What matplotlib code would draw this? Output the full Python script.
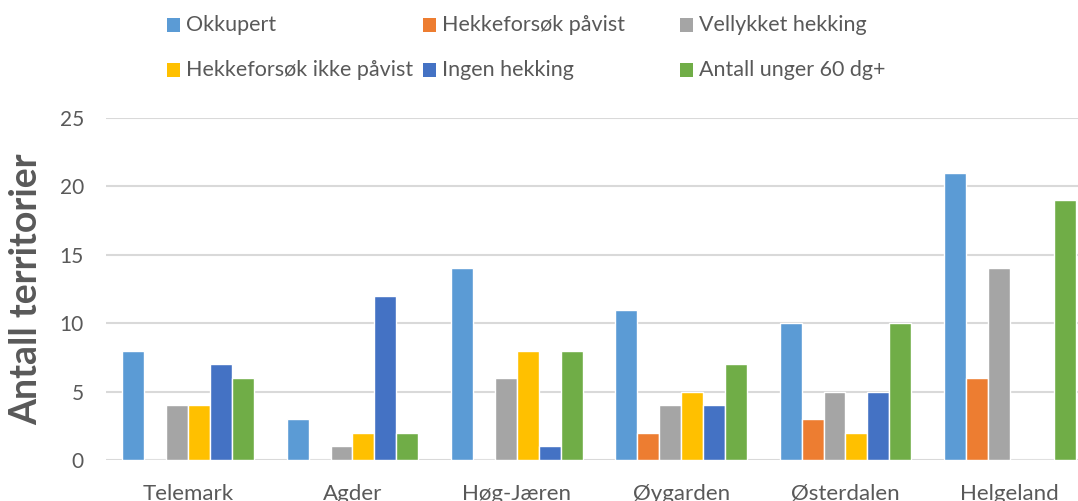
import matplotlib
matplotlib.use('Agg')
import matplotlib.pyplot as plt
from matplotlib.patches import Rectangle
import numpy as np

plt.rcParams['font.family'] = ['Lato', 'DejaVu Sans']

# data
regions = ['Telemark', 'Agder', 'Høg-Jæren', 'Øygarden', 'Østerdalen', 'Helgeland']
series_names = ['Okkupert', 'Hekkeforsøk påvist', 'Vellykket hekking',
                'Hekkeforsøk ikke påvist', 'Ingen hekking', 'Antall unger 60 dg+']
okkupert = [8, 3, 14, 11, 10, 21]
hekk_pavist = [0, 0, 0, 2, 3, 6]
vellykket = [4, 1, 6, 4, 5, 14]
hekk_ikke_pavist = [4, 2, 8, 5, 2, 0]
ingen_hekking = [7, 12, 1, 4, 5, 0]
unger_60 = [6, 2, 8, 7, 10, 19]

series = [okkupert, hekk_pavist, vellykket, hekk_ikke_pavist, ingen_hekking, unger_60]
colors = ['#5B9BD5', '#ED7D31', '#A5A5A5', '#FFC000', '#4472C4', '#70AD47']
text_col = '#595959'

W, H = 1078, 501
fig = plt.figure(figsize=(W / 100, H / 100), dpi=100)
ax = fig.add_axes([106 / W, 41 / H, (1092 - 106) / W, (460 - 118) / H])

x = np.arange(len(regions))
step = 22 / 164.5
for j, (vals, c) in enumerate(zip(series, colors)):
    ax.bar(x + (j - 2.5) * step, vals, width=step, color=c,
           edgecolor='white', linewidth=1.0, zorder=3)

ax.set_xlim(-0.5, len(regions) - 0.5)
ax.set_ylim(0, 25)
ax.set_yticks(range(0, 26, 5))
ax.set_xticks(x)
ax.set_xticklabels(regions)
ax.tick_params(axis='both', length=0, colors=text_col, labelsize=15)
ax.tick_params(axis='x', pad=17, labelsize=16)
ax.tick_params(axis='y', pad=16)
ax.grid(True, axis='y', color='#D9D9D9', linewidth=1.5, zorder=0)
for s in ax.spines.values():
    s.set_visible(False)

fig.text(26 / W, 1 - 289 / H, 'Antall territorier', rotation=90,
         ha='center', va='center', fontsize=27, fontweight='bold', color=text_col)

# legend laid out like the Excel one
cols = [167, 423, 680]
rows = [25, 70]
sq = 13
for k, (name, c) in enumerate(zip(series_names, colors)):
    px = cols[k % 3]
    py = rows[k // 3]
    fig.patches.append(Rectangle((px / W, 1 - (py + sq / 2) / H), sq / W, sq / H,
                                 transform=fig.transFigure, facecolor=c, edgecolor='none'))
    fig.text((px + sq + 6) / W, 1 - py / H, name, ha='left', va='center',
             fontsize=15.5, color=text_col)

fig.savefig('out.png', dpi=100)
